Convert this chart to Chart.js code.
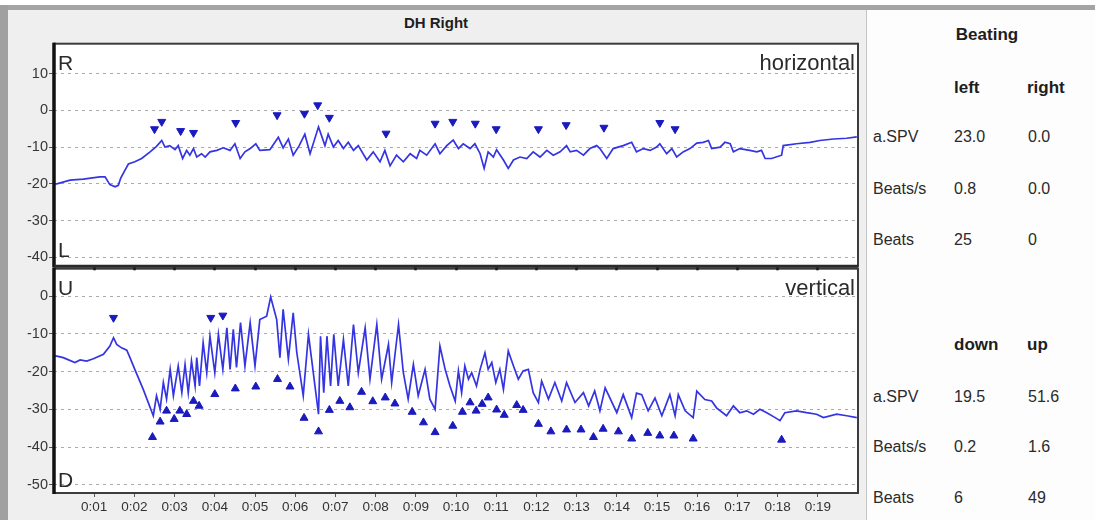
<!DOCTYPE html>
<html>
<head>
<meta charset="utf-8">
<script src="https://cdn.jsdelivr.net/npm/chart.js@4.4.1/dist/chart.umd.min.js"></script>
<style>
  html, body { margin: 0; padding: 0; }
  body { width: 1095px; height: 520px; position: relative; overflow: hidden; background: #ffffff;
         font-family: "Liberation Sans", Arial, sans-serif; }
  #topband { position: absolute; left: 0; top: 5px; width: 1095px; height: 5px; background: #a4a4a4; }
  #leftband { position: absolute; left: 0; top: 5px; width: 8px; height: 515px; background: #a0a0a0; }
  #panel { position: absolute; left: 8px; top: 10px; width: 858px; height: 510px; background: #efefef; }
  #divider { position: absolute; left: 866px; top: 10px; width: 1px; height: 510px; background: #c4c4c4; }
  #tablebg { position: absolute; left: 867px; top: 10px; width: 228px; height: 510px; background: #fdfdfd; }
  #title { position: absolute; left: 380px; top: 14px; width: 112px; text-align: center;
           font-weight: bold; font-size: 15px; color: #1e1e1e; }
  canvas { position: absolute; left: 0; }
  #hChart { top: 34px; z-index: 2; }
  #vChart { top: 259px; z-index: 1; }
  .cell { position: absolute; height: 20px; line-height: 20px; font-size: 16px; color: #2a2a2a; white-space: nowrap; }
  .head { font-weight: bold; font-size: 17px; color: #1e1e1e; }
</style>
</head>
<body>
<div id="topband"></div>
<div id="leftband"></div>
<div id="panel"></div>
<div id="divider"></div>
<div id="tablebg"></div>
<div id="title">DH Right</div>
<canvas id="hChart" width="866" height="242"></canvas>
<canvas id="vChart" width="866" height="261"></canvas>
<div id="table"></div>

<script>
// ---- time axis (seconds) ----
const X_TICKS = [1, 2, 3, 4, 5, 6, 7, 8, 9, 10, 11, 12, 13, 14, 15, 16, 17, 18, 19];
const X_TICK_LABELS = ['0:01', '0:02', '0:03', '0:04', '0:05', '0:06', '0:07', '0:08', '0:09', '0:10',
                       '0:11', '0:12', '0:13', '0:14', '0:15', '0:16', '0:17', '0:18', '0:19'];
const H_Y_TICKS = [10, 0, -10, -20, -30, -40];
const V_Y_TICKS = [0, -10, -20, -30, -40, -50];

// ---- horizontal eye position (deg) ----
const hTime = [0, 0.07, 0.40, 0.73, 1.14, 1.27, 1.39, 1.52, 1.60, 1.66, 1.77, 1.85, 2.01, 2.18, 2.39, 2.55, 2.68, 2.76, 2.88, 3.01,
  3.09, 3.20, 3.30, 3.38, 3.47, 3.55, 3.67, 3.76, 3.88, 4.05, 4.21, 4.38, 4.50, 4.63, 4.75, 4.88, 5.02, 5.12, 5.37, 5.58,
  5.70, 5.83, 5.95, 6.10, 6.24, 6.37, 6.58, 6.74, 6.82, 6.95, 7.07, 7.20, 7.32, 7.45, 7.57, 7.78, 7.94, 8.11, 8.23, 8.36,
  8.52, 8.69, 8.86, 9.02, 9.10, 9.27, 9.48, 9.60, 9.77, 9.93, 10.06, 10.18, 10.35, 10.47, 10.60, 10.70, 10.80, 10.93, 11.01, 11.18,
  11.30, 11.43, 11.59, 11.76, 11.92, 12.09, 12.26, 12.42, 12.59, 12.75, 12.84, 13.00, 13.17, 13.33, 13.50, 13.58, 13.75, 13.91, 14.16, 14.37,
  14.49, 14.66, 14.83, 14.99, 15.07, 15.24, 15.37, 15.49, 15.65, 15.82, 15.99, 16.15, 16.28, 16.36, 16.57, 16.69, 16.82, 16.90, 17.06, 17.31,
  17.48, 17.60, 17.69, 17.85, 18.10, 18.14, 18.47, 18.81, 19.05, 19.39, 19.72, 19.97];
const hPos = [-20.0, -20.0, -19.0, -18.7, -18.1, -18.1, -20.2, -20.8, -20.4, -18.4, -16.2, -14.6, -14.0, -13.1, -11.3, -9.8, -8.2, -10.0, -9.6, -10.7,
  -9.6, -13.1, -10.9, -12.2, -10.4, -12.7, -11.8, -12.7, -11.3, -10.9, -10.2, -10.9, -9.1, -13.1, -11.3, -10.4, -9.1, -10.9, -10.7, -7.3,
  -10.2, -7.8, -12.2, -9.6, -6.5, -11.8, -4.5, -9.6, -6.5, -10.0, -8.2, -10.4, -8.7, -10.9, -9.6, -13.5, -11.3, -14.0, -10.9, -15.1,
  -12.2, -14.0, -11.8, -13.1, -10.9, -12.2, -9.1, -11.8, -9.6, -8.1, -10.4, -9.1, -10.4, -9.1, -11.8, -15.8, -11.3, -12.7, -10.7, -13.5,
  -15.8, -13.5, -12.7, -13.1, -11.3, -12.7, -10.9, -12.2, -11.3, -9.6, -11.3, -10.9, -12.2, -10.4, -9.6, -10.4, -13.1, -10.4, -9.6, -8.7,
  -11.3, -10.4, -10.9, -10.0, -9.1, -11.8, -10.4, -12.7, -11.3, -10.4, -8.9, -8.7, -8.2, -10.4, -10.0, -8.7, -9.1, -11.3, -10.4, -10.9,
  -11.3, -10.9, -13.1, -13.1, -12.2, -9.6, -9.1, -8.7, -8.2, -7.8, -7.6, -7.2];

// beats detected on the horizontal channel (to the left)
const hBeatTime = [2.50, 2.68, 3.15, 3.47, 4.52, 5.55, 6.23, 6.56, 6.85, 8.26, 9.48, 9.92, 10.48, 11.00, 12.05, 12.74, 13.68, 15.07, 15.45];
const hBeatPos = [-5.1, -3.1, -5.6, -6.1, -3.4, -1.3, -0.9, 1.4, -2.0, -6.3, -3.6, -3.1, -3.6, -5.1, -5.1, -4.0, -4.7, -3.4, -5.1];

// ---- vertical eye position (deg) ----
const vTime = [0, 0.07, 0.23, 0.52, 0.65, 0.81, 0.98, 1.23, 1.39, 1.48, 1.56, 1.68, 1.81, 1.89, 2.01, 2.22, 2.47, 2.55, 2.64, 2.72,
  2.80, 2.89, 2.97, 3.09, 3.18, 3.26, 3.34, 3.42, 3.51, 3.55, 3.62, 3.71, 3.80, 3.88, 4.00, 4.09, 4.20, 4.30, 4.38, 4.46,
  4.54, 4.64, 4.75, 4.88, 5.00, 5.12, 5.29, 5.39, 5.54, 5.62, 5.70, 5.83, 5.95, 6.04, 6.20, 6.33, 6.58, 6.63, 6.71, 6.79,
  6.88, 6.96, 7.07, 7.20, 7.32, 7.45, 7.57, 7.74, 7.86, 8.03, 8.15, 8.32, 8.40, 8.57, 8.69, 8.81, 8.94, 9.06, 9.23, 9.35,
  9.48, 9.60, 9.73, 9.85, 9.98, 10.06, 10.14, 10.22, 10.31, 10.39, 10.51, 10.60, 10.72, 10.80, 10.89, 10.99, 11.09, 11.18, 11.30, 11.43,
  11.55, 11.67, 11.80, 11.92, 12.05, 12.13, 12.30, 12.46, 12.63, 12.75, 12.96, 13.17, 13.30, 13.45, 13.58, 13.71, 14.00, 14.16, 14.37, 14.49,
  14.62, 14.78, 14.95, 15.12, 15.32, 15.45, 15.53, 15.70, 15.90, 15.99, 16.19, 16.36, 16.48, 16.73, 16.90, 17.06, 17.23, 17.40, 17.56, 17.73,
  17.94, 18.06, 18.18, 18.47, 18.72, 18.97, 19.14, 19.47, 19.72, 19.97];
const vPos = [-15.9, -15.9, -16.3, -17.6, -16.9, -17.2, -16.6, -15.4, -13.2, -11.0, -12.8, -13.7, -14.3, -16.3, -19.4, -24.7, -31.7, -26.4, -30.0, -22.9,
  -27.3, -19.4, -26.4, -18.5, -25.6, -18.1, -25.6, -17.2, -23.8, -16.3, -23.8, -12.3, -20.3, -10.6, -20.3, -10.1, -19.4, -8.4, -19.4, -8.8,
  -18.9, -7.0, -18.5, -7.0, -18.5, -6.2, -5.3, -0.2, -6.2, -16.3, -3.5, -16.7, -4.4, -15.0, -26.4, -10.1, -31.3, -10.6, -25.6, -10.6,
  -23.8, -10.1, -23.8, -11.5, -23.8, -7.5, -20.3, -8.4, -22.0, -7.5, -22.0, -12.8, -22.9, -7.5, -20.3, -27.3, -18.1, -26.4, -19.4, -27.3,
  -30.0, -13.2, -19.4, -23.8, -27.8, -19.8, -25.6, -18.5, -22.0, -20.3, -23.8, -19.4, -15.0, -19.4, -17.6, -22.9, -19.4, -24.7, -14.5, -18.5,
  -22.0, -19.8, -19.4, -25.6, -28.2, -22.5, -27.3, -22.9, -27.8, -22.9, -28.2, -25.6, -29.1, -25.1, -30.4, -24.3, -30.9, -26.1, -32.2, -25.7,
  -26.1, -30.4, -27.0, -31.7, -26.1, -31.7, -26.1, -30.4, -32.2, -25.2, -27.4, -27.8, -29.6, -31.7, -29.1, -30.9, -30.4, -31.3, -30.0, -30.9,
  -32.2, -33.0, -30.9, -30.4, -30.9, -31.3, -32.2, -31.3, -31.7, -32.2];

// beats on the vertical channel: downward and upward
const vDownTime = [1.48, 3.90, 4.20];
const vDownPos = [-5.7, -5.7, -5.1];
const vUpTime = [2.45, 2.64, 2.80, 2.99, 3.13, 3.30, 3.47, 3.61, 4.00, 4.51, 5.02, 5.56, 5.87, 6.22, 6.58, 6.85,
  7.11, 7.36, 7.65, 7.93, 8.24, 8.48, 8.91, 9.19, 9.48, 9.92, 10.16, 10.35, 10.50, 10.65, 10.80, 11.01,
  11.20, 11.51, 11.67, 12.05, 12.36, 12.75, 13.11, 13.42, 13.66, 14.04, 14.37, 14.77, 15.07, 15.42, 15.90, 18.10];
const vUpPos = [-37.4, -33.3, -30.4, -32.6, -30.4, -31.3, -27.8, -29.1, -26.0, -24.5, -24.0, -22.0, -24.0, -32.3, -35.9, -30.2,
  -27.8, -29.5, -25.4, -27.9, -26.9, -28.5, -30.7, -33.5, -36.1, -34.4, -30.7, -28.2, -30.4, -28.6, -26.9, -30.1,
  -31.5, -28.9, -30.2, -33.9, -35.9, -35.4, -35.4, -37.4, -35.2, -35.9, -37.8, -36.3, -37.0, -37.0, -37.8, -38.1];

// ---- beating summary ----
const STAT_NAMES = ['a.SPV', 'Beats/s', 'Beats'];
const H_HEADERS = ['left', 'right'];
const H_LEFT = ['23.0', '0.8', '25'];
const H_RIGHT = ['0.0', '0.0', '0'];
const V_HEADERS = ['down', 'up'];
const V_DOWN = ['19.5', '0.2', '6'];
const V_UP = ['51.6', '1.6', '49'];

const FONT = '"Liberation Sans", Arial, sans-serif';
const TRACE = '#3434e2';
const MARK = '#1a1abf';

function pts(xs, ys) { return xs.map((x, i) => ({ x: x, y: ys[i] })); }

// white plot area, frame and corner captions
const panelFrame = {
  id: 'panelFrame',
  beforeDraw(chart, args, opts) {
    const a = chart.chartArea, c = chart.ctx;
    c.save();
    c.fillStyle = '#ffffff';
    c.fillRect(a.left, a.top, a.right - a.left, a.bottom - a.top);
    c.restore();
  },
  afterDraw(chart, args, opts) {
    const a = chart.chartArea, c = chart.ctx;
    c.save();
    c.strokeStyle = '#3c3c3c';
    c.lineWidth = 2;
    c.strokeRect(a.left, a.top, a.right - a.left, a.bottom - a.top);
    c.strokeStyle = '#111111';
    c.lineWidth = 3.5;
    c.beginPath(); c.moveTo(a.left, a.top - 1); c.lineTo(a.left, a.bottom + 1); c.stroke();
    if (opts.thickBottom) {
      c.lineWidth = 3;
      c.strokeStyle = '#2a2a2a';
      c.beginPath(); c.moveTo(a.left, a.bottom); c.lineTo(a.right, a.bottom); c.stroke();
    }
    c.fillStyle = '#2b2b2b';
    c.textBaseline = 'alphabetic';
    c.font = '21px ' + FONT;
    c.textAlign = 'left';
    c.fillText(opts.tl, a.left + 4, a.top + 26);
    c.fillText(opts.bl, a.left + 4, a.bottom - opts.blOffset);
    c.font = '22px ' + FONT;
    c.textAlign = 'right';
    c.fillText(opts.tr, a.right - 3, a.top + 26);
    c.restore();
  }
};

function yAxis(ticks, min, max) {
  return {
    type: 'linear', min: min, max: max,
    afterFit(s) { s.width = 54; },
    afterBuildTicks(s) { s.ticks = ticks.map(v => ({ value: v })); },
    ticks: { color: '#363636', font: { family: FONT, size: 14.5 }, padding: 1 },
    grid: { color: '#a9a9a9', lineWidth: 1, drawTicks: true, tickLength: 5, tickColor: '#555555',
            tickBorderDash: [], tickWidth: 1 },
    border: { display: false, dash: [3, 4] }
  };
}

function xAxis(showLabels, height) {
  return {
    type: 'linear', min: 0, max: 20,
    afterFit(s) { s.height = height; },
    afterBuildTicks(s) { s.ticks = X_TICKS.map(v => ({ value: v })); },
    ticks: {
      display: showLabels, color: '#333333', font: { family: FONT, size: 13.5 }, padding: 2,
      maxRotation: 0, autoSkip: false,
      callback: v => X_TICK_LABELS[X_TICKS.indexOf(v)]
    },
    grid: { drawOnChartArea: false, drawTicks: true, tickLength: 4,
            tickColor: showLabels ? '#555555' : '#1a1a1a', tickWidth: showLabels ? 1 : 2.5 },
    border: { display: false }
  };
}

function markerSet(xs, ys, down) {
  return {
    type: 'scatter', data: pts(xs, ys), showLine: false,
    pointStyle: 'triangle', rotation: down ? 180 : 0, pointRadius: 4.6,
    backgroundColor: MARK, borderColor: MARK, borderWidth: 1
  };
}

function traceSet(xs, ys) {
  return {
    type: 'line', data: pts(xs, ys), borderColor: TRACE, borderWidth: 1.7,
    pointRadius: 0, tension: 0, fill: false
  };
}

const common = {
  responsive: false, animation: false, events: [],
  plugins: { legend: { display: false }, tooltip: { enabled: false } }
};

new Chart(document.getElementById('hChart'), {
  type: 'scatter',
  data: { datasets: [ markerSet(hBeatTime, hBeatPos, true), traceSet(hTime, hPos) ] },
  options: Object.assign({}, common, {
    layout: { padding: { top: 0, right: 8, left: 0, bottom: 0 } },
    scales: { x: xAxis(false, 4), y: yAxis(H_Y_TICKS, -42.4, 18.1) },
    plugins: Object.assign({}, common.plugins, {
      panelFrame: { tl: 'R', bl: 'L', tr: 'horizontal', blOffset: 9, thickBottom: true }
    })
  }),
  plugins: [panelFrame]
});

new Chart(document.getElementById('vChart'), {
  type: 'scatter',
  data: { datasets: [ markerSet(vDownTime, vDownPos, true), markerSet(vUpTime, vUpPos, false), traceSet(vTime, vPos) ] },
  options: Object.assign({}, common, {
    layout: { padding: { top: 0, right: 8, left: 0, bottom: 0 } },
    scales: { x: xAxis(true, 27), y: yAxis(V_Y_TICKS, -52.2, 7.3) },
    plugins: Object.assign({}, common.plugins, {
      panelFrame: { tl: 'U', bl: 'D', tr: 'vertical', blOffset: 6, thickBottom: false }
    })
  }),
  plugins: [panelFrame]
});

// summary table
const table = document.getElementById('table');
function cell(text, x, y, cls, center) {
  const d = document.createElement('div');
  d.className = 'cell' + (cls ? ' ' + cls : '');
  d.textContent = text;
  d.style.left = x + 'px';
  d.style.top = (y - 10) + 'px';
  if (center) { d.style.width = '120px'; d.style.marginLeft = '-60px'; d.style.textAlign = 'center'; }
  table.appendChild(d);
}
cell('Beating', 987, 35, 'head', true);
function block(headers, col1, col2, headY, rowYs) {
  cell(headers[0], 954, headY, 'head');
  cell(headers[1], 1027, headY, 'head');
  STAT_NAMES.forEach((n, i) => {
    cell(n, 873, rowYs[i]);
    cell(col1[i], 954, rowYs[i]);
    cell(col2[i], 1028, rowYs[i]);
  });
}
block(H_HEADERS, H_LEFT, H_RIGHT, 88, [137, 189, 240]);
block(V_HEADERS, V_DOWN, V_UP, 345, [397, 447, 498]);
</script>
</body>
</html>
